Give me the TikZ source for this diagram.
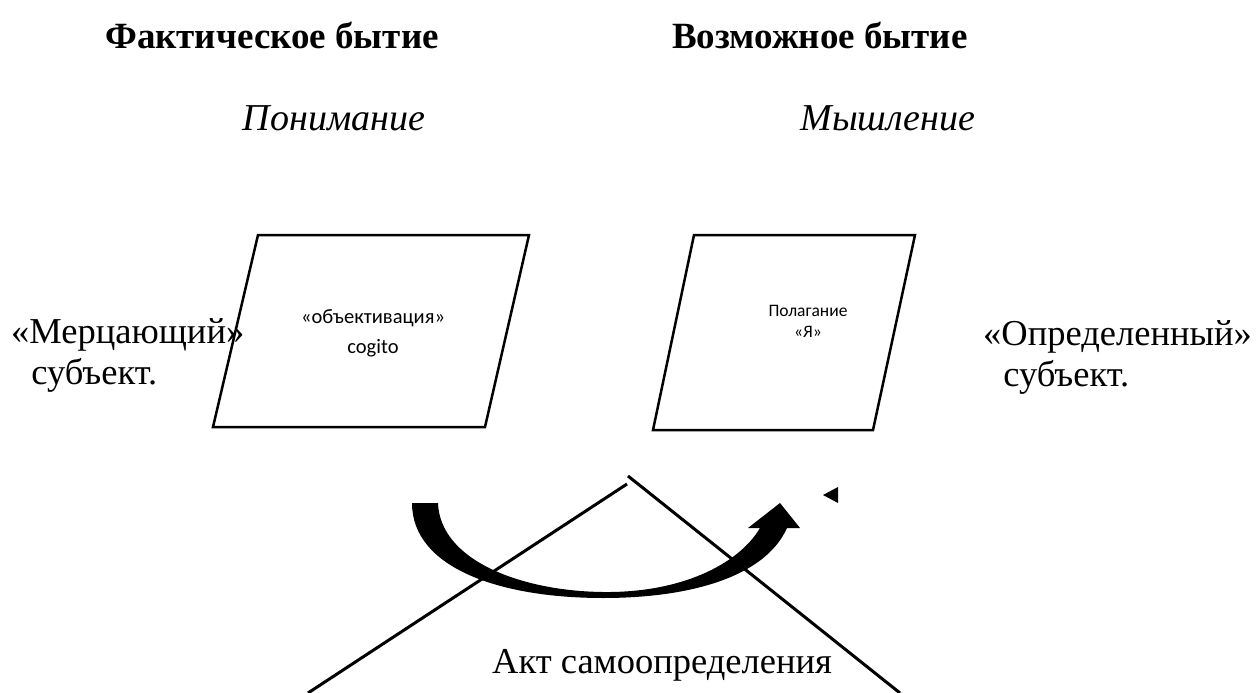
\documentclass[tikz,border=0pt]{standalone}
\usepackage{fontspec}
\setmainfont{Liberation Serif}
\newfontfamily\boxfont{Carlito}
\begin{document}
\begin{tikzpicture}[x=1pt,y=-1pt,
  heading/.style={font=\fontsize{37}{42}\selectfont\bfseries, inner sep=0pt},
  ital/.style={font=\fontsize{38}{42}\selectfont\itshape, inner sep=0pt},
  side/.style={font=\fontsize{36.5}{41}\selectfont, inner sep=0pt, align=left},
  boxtxtA/.style={font=\boxfont\fontsize{20.5}{30}\selectfont, inner sep=0pt, align=center},
  boxtxtB/.style={font=\boxfont\fontsize{17.5}{21}\selectfont, inner sep=0pt, align=center},
  para/.style={draw, line width=2.5pt, line join=miter},
  line/.style={draw, line width=3pt}]
\useasboundingbox (0,0) rectangle (1259,693);
\node[heading] (h1) at (272,35) {Фактическое бытие};
\node[heading] (h2) at (820,35) {Возможное бытие};
\node[ital] (i1) at (334,118) {Понимание};
\node[ital] (i2) at (888,118) {Мышление};
% parallelograms
\coordinate (a1) at (258,235); \coordinate (a2) at (529,235);
\coordinate (a3) at (485,427); \coordinate (a4) at (213,427);
\draw[para] (a1) -- (a2) -- (a3) -- (a4) -- cycle;
\coordinate (b1) at (694,235); \coordinate (b2) at (915,235);
\coordinate (b3) at (873,430); \coordinate (b4) at (653,430);
\draw[para] (b1) -- (b2) -- (b3) -- (b4) -- cycle;
\node[boxtxtA] (t1) at (373,333) {«объективация»\\cogito};
\node[boxtxtB] (t2) at (808,321) {Полагание\\«Я»};
\node[side, anchor=west] (s1) at (11,355) {«Мерцающий»\\\hspace*{0.55em}субъект.};
\node[side, anchor=west] (s2) at (983,357) {«Определенный»\\\hspace*{0.55em}субъект.};
% lines
\coordinate (r1) at (628,476); \coordinate (r2) at (900,693);
\coordinate (l1) at (627,484); \coordinate (l2) at (308,693);
\draw[line] (r1) -- (r2);
\draw[line] (l1) -- (l2);
% curved arrow
\fill (412,503) -- (438,503)
  .. controls (440,560) and (520,591) .. (603,592)
  .. controls (680,593) and (738,565) .. (760,528)
  -- (748,528) -- (780,503) -- (800,528) -- (787,528)
  .. controls (765,577) and (690,598) .. (603,598)
  .. controls (500,598) and (412,568) .. (412,503) -- cycle;
% small triangle
\fill (823,495) -- (838,487) -- (838,503) -- cycle;
\node[side] (act) at (662,665) {Акт самоопределения};
\end{tikzpicture}
\end{document}
